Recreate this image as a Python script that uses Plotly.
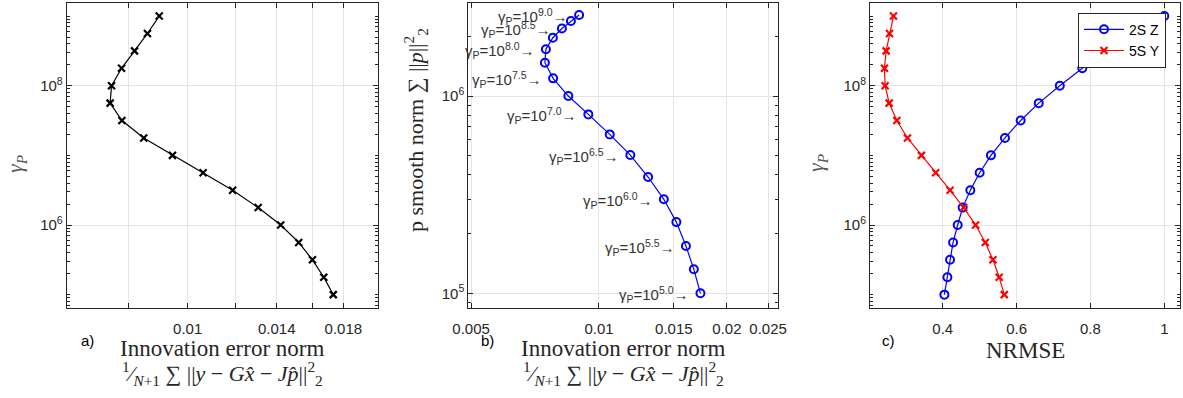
import math
import plotly.graph_objects as go

W, H = 1183, 398

# ---------------- data ----------------
gamma_log10 = [5.0, 5.25, 5.5, 5.75, 6.0, 6.25, 6.5, 6.75, 7.0,
               7.25, 7.5, 7.75, 8.0, 8.25, 8.5, 8.75, 9.0]
innov_err = [0.01733, 0.01672, 0.01602, 0.01521, 0.01421, 0.01305, 0.01185,
             0.01060, 0.00944, 0.00847, 0.00780, 0.00746, 0.00750, 0.00779,
             0.00818, 0.00859, 0.00898]
p_norm = [1.0e5, 1.323e5, 1.737e5, 2.296e5, 2.995e5, 3.886e5, 5.02e5, 6.39e5,
          8.07e5, 1.0e6, 1.229e6, 1.475e6, 1.725e6, 1.975e6, 2.20e6, 2.40e6,
          2.573e6]
nrmse_2sz = [0.4045, 0.4126, 0.4198, 0.428, 0.4405, 0.454, 0.4748, 0.500,
             0.5306, 0.5685, 0.611, 0.660, 0.717, 0.778, 0.847, 0.922, 1.0]
nrmse_5sy = [0.5667, 0.553, 0.536, 0.5153, 0.489, 0.4568, 0.4198, 0.381,
             0.3423, 0.3045, 0.2757, 0.255, 0.244, 0.2423, 0.2468, 0.2559,
             0.2667]
label_exps = ["5.0", "5.5", "6.0", "6.5", "7.0", "7.5", "8.0", "8.5", "9.0"]
label_idx = [0, 2, 4, 6, 8, 10, 12, 14, 16]

gamma = [10 ** e for e in gamma_log10]

# ---------------- styling helpers ----------------
AX = "#262626"
GRID = "#e4e4e4"
TICKFONT = dict(family="Liberation Sans, Arial", size=15, color=AX)
SERIF = "Liberation Serif, Times New Roman, serif"


def px_x(p):
    return p / W


def px_y(p):
    return 1 - p / H


def common():
    return dict(showline=True, linecolor=AX, linewidth=1, mirror="allticks",
                ticks="inside", ticklen=5, tickcolor=AX, tickwidth=1,
                showgrid=True, gridcolor=GRID, gridwidth=1, zeroline=False,
                tickfont=TICKFONT, automargin=False)


def log_minor(lo, hi, majors):
    vals = []
    for d in range(int(math.floor(lo)) - 1, int(math.ceil(hi)) + 1):
        for m in range(1, 10):
            v = m * 10 ** d
            if lo <= math.log10(v) <= hi and v not in majors:
                vals.append(v)
    return vals


y_dom = [px_y(308.3), px_y(2.7)]
dom_a = [px_x(66.7), px_x(378)]
dom_b = [px_x(468.3), px_x(778.3)]
dom_c = [px_x(870), px_x(1180)]

fig = go.Figure()

# panel a
fig.add_trace(go.Scatter(x=innov_err, y=gamma, mode="lines+markers",
                         line=dict(color="black", width=1.2),
                         marker=dict(symbol="x-thin-open", size=7,
                                     line=dict(color="black", width=2.2)),
                         showlegend=False, xaxis="x", yaxis="y"))
# panel b
fig.add_trace(go.Scatter(x=innov_err, y=p_norm, mode="lines+markers",
                         line=dict(color="#0000ff", width=1.2),
                         marker=dict(symbol="circle-open", size=8,
                                     line=dict(color="#0000ff", width=2)),
                         showlegend=False, xaxis="x2", yaxis="y2"))
# panel c
fig.add_trace(go.Scatter(x=nrmse_2sz, y=gamma, mode="lines+markers",
                         name="2S Z",
                         line=dict(color="#0000ff", width=1.2),
                         marker=dict(symbol="circle-open", size=8,
                                     line=dict(color="#0000ff", width=2)),
                         xaxis="x3", yaxis="y3"))
fig.add_trace(go.Scatter(x=nrmse_5sy, y=gamma, mode="lines+markers",
                         name="5S Y",
                         line=dict(color="#ff0000", width=1.2),
                         marker=dict(symbol="x-thin-open", size=7,
                                     line=dict(color="#ff0000", width=2.2)),
                         xaxis="x3", yaxis="y3"))

ya_range = [4.804, 9.192]
yb_range = [4.924, 6.473]
maj_ac = [1e6, 1e8]
maj_b = [1e5, 1e6]

layout = dict(
    width=W, height=H, margin=dict(l=0, r=0, t=0, b=0, autoexpand=False),
    paper_bgcolor="white", plot_bgcolor="white",
    font=dict(family="Liberation Sans, Arial", color=AX),
    xaxis=dict(common(), domain=dom_a, anchor="y", type="log",
               range=[-2.1985, -1.6878],
               tickvals=[0.008, 0.01, 0.012, 0.014, 0.016, 0.018],
               ticktext=["", "0.01", "", "0.014", "", "0.018"],
               ticklabelstandoff=7),
    yaxis=dict(common(), domain=y_dom, anchor="x", type="log",
               range=ya_range, tickvals=maj_ac,
               ticktext=["10<sup>6</sup>", "10<sup>8</sup>"],
               minor=dict(tickvals=log_minor(*ya_range, maj_ac),
                          ticks="inside", ticklen=3, tickcolor=AX,
                          showgrid=False)),
    xaxis2=dict(common(), domain=dom_b, anchor="y2", type="log",
                range=[-2.3075, -1.578],
                tickvals=[0.005, 0.01, 0.015, 0.02, 0.025],
                ticktext=["0.005", "0.01", "0.015", "0.02", "0.025"],
                ticklabelstandoff=7),
    yaxis2=dict(common(), domain=y_dom, anchor="x2", type="log",
                range=yb_range, tickvals=maj_b,
                ticktext=["10<sup>5</sup>", "10<sup>6</sup>"],
                minor=dict(tickvals=log_minor(*yb_range, maj_b),
                           ticks="inside", ticklen=3, tickcolor=AX,
                           showgrid=False)),
    xaxis3=dict(common(), domain=dom_c, anchor="y3", type="linear",
                range=[0.2031, 1.0425], tickvals=[0.4, 0.6, 0.8, 1.0],
                ticktext=["0.4", "0.6", "0.8", "1"], ticklabelstandoff=7),
    yaxis3=dict(common(), domain=y_dom, anchor="x3", type="log",
                range=ya_range, tickvals=maj_ac,
                ticktext=["10<sup>6</sup>", "10<sup>8</sup>"],
                minor=dict(tickvals=log_minor(*ya_range, maj_ac),
                           ticks="inside", ticklen=3, tickcolor=AX,
                           showgrid=False)),
    legend=dict(x=px_x(1078), y=px_y(12.7), xanchor="left", yanchor="top",
                bgcolor="white", bordercolor=AX, borderwidth=1,
                font=dict(family="Liberation Sans, Arial", size=14, color="black"),
                tracegroupgap=0, itemwidth=40),
)
fig.update_layout(**layout)

ann = []
# gamma labels in panel b
for i, e in zip(label_idx, label_exps):
    ann.append(dict(x=math.log10(innov_err[i]), y=math.log10(p_norm[i]),
                    xref="x2", yref="y2", xanchor="right", yanchor="middle",
                    xshift=-9, yshift=-1, showarrow=False,
                    text="γ<sub>P</sub>=10<sup>" + e + "</sup>→",
                    font=dict(family="Liberation Sans, Arial", size=15,
                              color="#333333")))

xt1 = "Innovation error norm"
xt2 = ("<sup>1</sup>⁄<sub><i>N</i>+1</sub> ∑ ||<i>y</i> − <i>G</i><i>x̂</i> − "
       "<i>J</i><i>p̂</i>||<sup>2</sup><sub>2</sub>")
for cx in [222, 623]:
    ann.append(dict(x=px_x(cx), y=px_y(348), xref="paper", yref="paper",
                    text=xt1, showarrow=False, xanchor="center",
                    yanchor="middle",
                    font=dict(family=SERIF, size=23, color=AX)))
    ann.append(dict(x=px_x(cx), y=px_y(373), xref="paper", yref="paper",
                    text=xt2, showarrow=False, xanchor="center",
                    yanchor="middle",
                    font=dict(family=SERIF, size=22, color=AX)))
ann.append(dict(x=px_x(1025), y=px_y(350), xref="paper", yref="paper",
                text="NRMSE", showarrow=False, xanchor="center",
                yanchor="middle", font=dict(family=SERIF, size=23, color=AX)))
# y titles
for cx in [16, 817]:
    ann.append(dict(x=px_x(cx), y=px_y(163), xref="paper", yref="paper",
                    text="<i>γ</i><sub><i>P</i></sub>", showarrow=False,
                    textangle=-90, xanchor="center", yanchor="middle",
                    font=dict(family=SERIF, size=22, color="#555555")))
ann.append(dict(x=px_x(415), y=px_y(130), xref="paper", yref="paper",
                text="p smooth norm ∑ ||<i>p</i>||<sup>2</sup><sub>2</sub>",
                showarrow=False, textangle=-90, xanchor="center",
                yanchor="middle", font=dict(family=SERIF, size=22, color=AX)))
# panel labels
for cx, t in [(87, "a)"), (488, "b)"), (888, "c)")]:
    ann.append(dict(x=px_x(cx), y=px_y(340), xref="paper", yref="paper",
                    text=t, showarrow=False, xanchor="center",
                    yanchor="middle",
                    font=dict(family="Liberation Sans, Arial", size=15,
                              color="black")))
fig.update_layout(annotations=ann)

fig.write_html("out.html", config={"displayModeBar": False},
               post_script="document.body.style.margin='0';"
                           "document.body.style.padding='0';")
